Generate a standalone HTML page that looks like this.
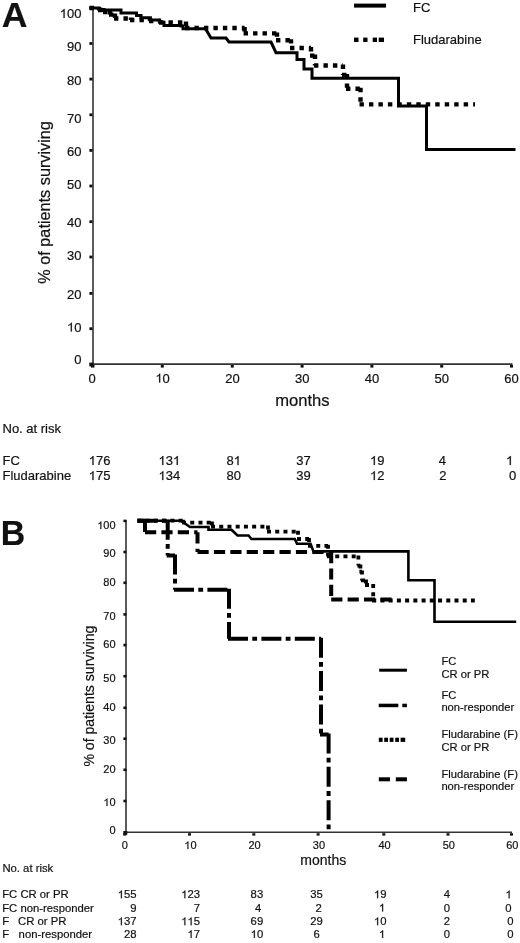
<!DOCTYPE html>
<html>
<head>
<meta charset="utf-8">
<style>
html,body{margin:0;padding:0;background:#fff;}
body{width:520px;height:943px;overflow:hidden;position:relative;}
svg{position:absolute;left:0;top:0;filter:grayscale(100%);}
text{font-family:"Liberation Sans",sans-serif;fill:#111;stroke:#111;stroke-width:0.2px;}
</style>
</head>
<body>
<svg width="520" height="943" viewBox="0 0 520 943">
<!-- ================= PANEL A ================= -->
<text x="1.8" y="26.5" font-size="35.6" font-weight="bold" fill="#000">A</text>

<!-- axes -->
<g stroke="#333" stroke-width="1.6" fill="none">
  <path d="M93,7.5 V364.1 H512.5"/>
</g>
<!-- y ticks -->
<g fill="#111">
  <rect x="89.4" y="6.8" width="3" height="2.8"/>
  <rect x="89.4" y="42.1" width="3" height="2.8"/>
  <rect x="89.4" y="77.7" width="3" height="2.8"/>
  <rect x="89.4" y="113.4" width="3" height="2.8"/>
  <rect x="89.4" y="149" width="3" height="2.8"/>
  <rect x="89.4" y="184.6" width="3" height="2.8"/>
  <rect x="89.4" y="220.3" width="3" height="2.8"/>
  <rect x="89.4" y="255.6" width="3" height="2.8"/>
  <rect x="89.4" y="292" width="3" height="2.8"/>
  <rect x="89.4" y="327.3" width="3" height="2.8"/>
  <rect x="89.3" y="362.6" width="4.2" height="3.8"/>
  <!-- x ticks -->
  <rect x="91" y="365" width="3.4" height="2.6"/>
  <rect x="160.8" y="365" width="3" height="2.6"/>
  <rect x="230.8" y="365" width="3" height="2.6"/>
  <rect x="300.6" y="365" width="3" height="2.6"/>
  <rect x="370.4" y="365" width="3" height="2.6"/>
  <rect x="440.2" y="365" width="3" height="2.6"/>
  <rect x="510" y="365" width="3" height="2.6"/>
</g>
<!-- y labels -->
<g font-size="13" text-anchor="end">
  <text x="81.5" y="17.9">&#8199;00</text><path fill="#111" stroke="#111" stroke-width="31.5" transform="translate(59.81,17.90) scale(0.00635,-0.00635)" d="M583 0V1102C520 1045 430 980 223 894V1061C420 1153 590 1278 647 1409H763V0Z"/>
  <text x="81.5" y="50.9">90</text>
  <text x="81.5" y="84.8">80</text>
  <text x="81.5" y="123">70</text>
  <text x="81.5" y="155.9">60</text>
  <text x="81.5" y="188.8">50</text>
  <text x="81.5" y="226.8">40</text>
  <text x="81.5" y="260.1">30</text>
  <text x="81.5" y="298.9">20</text>
  <text x="81.5" y="331.6">&#8199;0</text><path fill="#111" stroke="#111" stroke-width="31.5" transform="translate(67.04,331.60) scale(0.00635,-0.00635)" d="M583 0V1102C520 1045 430 980 223 894V1061C420 1153 590 1278 647 1409H763V0Z"/>
  <text x="81.5" y="363.8">0</text>
</g>
<!-- x labels -->
<g font-size="13" text-anchor="middle">
  <text x="92" y="382.6">0</text>
  <text x="162.6" y="382.6">&#8199;0</text><path fill="#111" stroke="#111" stroke-width="31.5" transform="translate(155.37,382.60) scale(0.00635,-0.00635)" d="M583 0V1102C520 1045 430 980 223 894V1061C420 1153 590 1278 647 1409H763V0Z"/>
  <text x="232.5" y="382.6">20</text>
  <text x="302.3" y="382.6">30</text>
  <text x="372" y="382.6">40</text>
  <text x="441.8" y="382.6">50</text>
  <text x="511.6" y="382.6">60</text>
</g>
<text x="275.2" y="406" font-size="16.6">months</text>
<text transform="translate(50.4,202.4) rotate(-90)" font-size="16.25" text-anchor="middle">% of patients surviving</text>

<!-- curves A -->
<path fill="none" stroke="#000" stroke-width="3" stroke-linejoin="miter" d="M89.5,8.0 L99.0,8.0 L99.0,9.5 L104.0,9.5 L104.0,10.0 L121.0,10.0 L121.0,13.0 L136.5,13.0 L136.5,15.4 L141.0,15.4 L141.0,17.7 L150.4,17.7 L150.4,20.0 L159.6,20.0 L159.6,22.3 L164.0,22.3 L164.0,25.4 L181.0,25.4 L181.0,26.0 L183.0,26.0 L183.0,28.8 L205.5,28.8 L211.0,38.0 L226.0,38.0 L229.0,42.0 L271.0,42.0 L276.0,52.7 L297.0,52.7 L297.0,59.4 L304.0,59.4 L304.0,69.0 L312.0,69.0 L312.0,78.3 L398.5,78.3 L398.5,106.0 L426.5,106.0 L426.5,149.5 L515.5,149.5"/>
<path fill="none" stroke="#000" stroke-width="4.4" stroke-dasharray="4.4 5.07" d="M89.5,8.0 L99.0,8.0 M99.0,7.0 L99.0,10.0 M98.0,10.0 L104.0,10.0 M104.0,9.0 L104.0,12.0 M103.0,12.0 L110.0,12.0 M110.0,11.0 L110.0,14.6 M109.0,14.6 L115.0,14.6 M115.0,13.6 L115.0,18.5 M114.0,18.5 L131.0,18.5 M131.0,17.5 L131.0,20.0 M130.0,20.0 L150.0,20.0 M150.0,19.0 L150.0,21.0 M149.0,21.0 L160.0,21.0 M160.0,20.0 L160.0,22.5 M159.0,22.5 L186.0,22.5 M186.0,21.5 L186.0,28.0 M185.0,28.0 L244.6,28.0 M244.6,27.0 L244.6,33.4 M243.6,33.4 L277.0,33.4 M277.0,32.4 L277.0,40.2 M276.0,40.2 L291.0,40.2 M291.0,39.2 L291.0,48.0 M290.0,48.0 L311.0,48.0 M311.0,47.0 L311.0,55.6 M310.0,55.6 L315.0,55.6 M315.0,54.6 L315.0,65.5 M314.0,65.5 L343.0,65.5 M343.0,64.5 L343.0,75.0 M342.0,75.0 L347.0,75.0 M347.0,74.0 L347.0,88.8 M346.0,88.8 L360.5,88.8 M360.5,87.8 L360.5,104.4 M359.5,104.4 L475.0,104.4"/>

<!-- legend A -->
<rect x="354" y="3.6" width="32" height="4" fill="#000"/>
<g fill="#000">
  <rect x="354" y="37.6" width="4.5" height="4.4"/>
  <rect x="363.2" y="37.6" width="4.3" height="4.4"/>
  <rect x="372.7" y="37.6" width="4.3" height="4.4"/>
  <rect x="378.7" y="37.6" width="5.3" height="4.4"/>
</g>
<text x="413" y="11.6" font-size="13">FC</text>
<text x="413" y="44.3" font-size="13">Fludarabine</text>

<!-- table A -->
<g font-size="13">
  <text x="2.5" y="432.8">No. at risk</text>
  <text x="2.5" y="465">FC</text>
  <text x="2.5" y="480.1">Fludarabine</text>
  <text x="88.7" y="465.0">&#8199;76</text><path fill="#111" stroke="#111" stroke-width="31.5" transform="translate(88.70,465.00) scale(0.00635,-0.00635)" d="M583 0V1102C520 1045 430 980 223 894V1061C420 1153 590 1278 647 1409H763V0Z"/>
  <text x="88.7" y="480.1">&#8199;75</text><path fill="#111" stroke="#111" stroke-width="31.5" transform="translate(88.70,480.10) scale(0.00635,-0.00635)" d="M583 0V1102C520 1045 430 980 223 894V1061C420 1153 590 1278 647 1409H763V0Z"/>
  <text x="158.5" y="465.0">&#8199;3&#8199;</text><path fill="#111" stroke="#111" stroke-width="31.5" transform="translate(158.50,465.00) scale(0.00635,-0.00635)" d="M583 0V1102C520 1045 430 980 223 894V1061C420 1153 590 1278 647 1409H763V0Z"/><path fill="#111" stroke="#111" stroke-width="31.5" transform="translate(172.96,465.00) scale(0.00635,-0.00635)" d="M583 0V1102C520 1045 430 980 223 894V1061C420 1153 590 1278 647 1409H763V0Z"/>
  <text x="158.5" y="480.1">&#8199;34</text><path fill="#111" stroke="#111" stroke-width="31.5" transform="translate(158.50,480.10) scale(0.00635,-0.00635)" d="M583 0V1102C520 1045 430 980 223 894V1061C420 1153 590 1278 647 1409H763V0Z"/>
  <text x="226.5" y="465.0">8&#8199;</text><path fill="#111" stroke="#111" stroke-width="31.5" transform="translate(233.73,465.00) scale(0.00635,-0.00635)" d="M583 0V1102C520 1045 430 980 223 894V1061C420 1153 590 1278 647 1409H763V0Z"/>
  <text x="226.5" y="480.1">80</text>
  <text x="296.3" y="465">37</text>
  <text x="296.3" y="480.1">39</text>
  <text x="370.0" y="465.0">&#8199;9</text><path fill="#111" stroke="#111" stroke-width="31.5" transform="translate(370.00,465.00) scale(0.00635,-0.00635)" d="M583 0V1102C520 1045 430 980 223 894V1061C420 1153 590 1278 647 1409H763V0Z"/>
  <text x="370.0" y="480.1">&#8199;2</text><path fill="#111" stroke="#111" stroke-width="31.5" transform="translate(370.00,480.10) scale(0.00635,-0.00635)" d="M583 0V1102C520 1045 430 980 223 894V1061C420 1153 590 1278 647 1409H763V0Z"/>
  <text x="438.8" y="465">4</text>
  <text x="439.3" y="480.1">2</text>
  <text x="506.0" y="465.0">&#8199;</text><path fill="#111" stroke="#111" stroke-width="31.5" transform="translate(506.00,465.00) scale(0.00635,-0.00635)" d="M583 0V1102C520 1045 430 980 223 894V1061C420 1153 590 1278 647 1409H763V0Z"/>
  <text x="509" y="480.1">0</text>
</g>

<!-- ================= PANEL B ================= -->
<text transform="translate(0.8,545.2) scale(0.945,1)" font-size="35.8" font-weight="bold" fill="#000">B</text>

<!-- axes B -->
<g stroke="#333" stroke-width="1.6" fill="none">
  <path d="M126,520 V832.3 H512"/>
</g>
<g fill="#111">
  <rect x="123.4" y="519.6" width="3" height="2.6"/>
  <rect x="123.4" y="550.7" width="3" height="2.6"/>
  <rect x="123.4" y="581.5" width="3" height="2.6"/>
  <rect x="123.4" y="613.1" width="3" height="2.6"/>
  <rect x="123.4" y="643.8" width="3" height="2.6"/>
  <rect x="123.4" y="674.9" width="3" height="2.6"/>
  <rect x="123.4" y="706.5" width="3" height="2.6"/>
  <rect x="123.4" y="737.4" width="3" height="2.6"/>
  <rect x="123.4" y="768.5" width="3" height="2.6"/>
  <rect x="123.4" y="799.7" width="3" height="2.6"/>
  <rect x="123.3" y="831" width="4" height="3.8"/>
  <rect x="123.3" y="833.2" width="3" height="2.4"/>
  <rect x="188" y="833.2" width="3" height="2.4"/>
  <rect x="252.3" y="833.2" width="3" height="2.4"/>
  <rect x="316.6" y="833.2" width="3" height="2.4"/>
  <rect x="382.3" y="833.2" width="3" height="2.4"/>
  <rect x="446.5" y="833.2" width="3" height="2.4"/>
  <rect x="510" y="833.2" width="3" height="2.4"/>
</g>
<g font-size="11" text-anchor="end">
  <text x="115.6" y="529.1">&#8199;00</text><path fill="#111" stroke="#111" stroke-width="37.2" transform="translate(97.25,529.10) scale(0.00537,-0.00537)" d="M583 0V1102C520 1045 430 980 223 894V1061C420 1153 590 1278 647 1409H763V0Z"/>
  <text x="115.6" y="557.3">90</text>
  <text x="115.6" y="585.5">80</text>
  <text x="115.6" y="619.8">70</text>
  <text x="115.6" y="648">60</text>
  <text x="115.6" y="681.7">50</text>
  <text x="115.6" y="710.7">40</text>
  <text x="115.6" y="744">30</text>
  <text x="115.6" y="772.8">20</text>
  <text x="115.6" y="806.0">&#8199;0</text><path fill="#111" stroke="#111" stroke-width="37.2" transform="translate(103.36,806.00) scale(0.00537,-0.00537)" d="M583 0V1102C520 1045 430 980 223 894V1061C420 1153 590 1278 647 1409H763V0Z"/>
  <text x="115.6" y="834.3">0</text>
</g>
<g font-size="11" text-anchor="middle">
  <text x="124.8" y="849">0</text>
  <text x="190.4" y="849.0">&#8199;0</text><path fill="#111" stroke="#111" stroke-width="37.2" transform="translate(184.28,849.00) scale(0.00537,-0.00537)" d="M583 0V1102C520 1045 430 980 223 894V1061C420 1153 590 1278 647 1409H763V0Z"/>
  <text x="254.6" y="849">20</text>
  <text x="318.9" y="849">30</text>
  <text x="384.6" y="849">40</text>
  <text x="448.8" y="849">50</text>
  <text x="512.3" y="849">60</text>
</g>
<text x="300.3" y="864.5" font-size="14">months</text>
<text transform="translate(94,696.1) rotate(-90)" font-size="14.1" text-anchor="middle">% of patients surviving</text>

<!-- curves B -->
<path fill="none" stroke="#000" stroke-width="2.6" stroke-linejoin="miter" d="M137.5,520.7 L181.0,520.7 L190.0,527.0 L208.5,527.0 L208.5,529.7 L231.5,529.7 L237.5,535.5 L248.5,535.5 L251.5,539.0 L294.8,539.0 L297.0,543.8 L310.5,543.8 L313.5,551.4 L408.4,551.4 L408.4,580.2 L434.5,580.2 L434.5,621.7 L516.2,621.7"/>
<path fill="none" stroke="#000" stroke-width="4" stroke-dasharray="20 4.3 4.8 4.3" d="M137.5,520.7 L167.7,520.7 M167.7,519.7 L167.7,555.4 M166.7,555.4 L175.0,555.4 M175.0,554.4 L175.0,589.7 M174.0,589.7 L229.0,589.7 M229.0,588.7 L229.0,638.7 M228.0,638.7 L321.0,638.7 M321.0,637.7 L321.0,734.4 M320.0,734.4 L328.6,734.4 M328.6,733.4 L328.6,830.0"/>
<path fill="none" stroke="#000" stroke-width="4" stroke-dasharray="11.2 5.2" d="M137.5,520.7 L145.0,520.7 M145.0,520.7 L145.0,532.3 M145.0,532.3 L197.5,532.3 M197.5,532.3 L197.5,552.0 M197.5,552.0 L331.2,552.0 M331.2,552.0 L331.2,599.6 M331.2,599.6 L392.3,599.6"/>
<path fill="none" stroke="#000" stroke-width="3.8" stroke-dasharray="4 4.23" d="M137.5,520.7 L183.0,520.7 M183.0,519.7 L183.0,522.6 M182.0,522.6 L212.0,522.6 M212.0,521.6 L212.0,526.6 M211.0,526.6 L268.0,526.6 M268.0,525.6 L268.0,531.7 M267.0,531.7 L298.0,531.7 M298.0,530.7 L298.0,539.0 M297.0,539.0 L309.0,539.0 M309.0,538.0 L309.0,545.8 M308.0,545.8 L328.0,545.8 M328.0,544.8 L328.0,556.4 M327.0,556.4 L358.4,556.4 M358.4,555.4 L358.4,565.6 M357.4,565.6 L360.4,565.6 M360.4,564.6 L360.4,571.6 M359.4,571.6 L362.0,571.6 M362.0,570.6 L362.0,580.4 M361.0,580.4 L366.0,580.4 M366.0,579.4 L366.0,585.0 M365.0,585.0 L373.2,585.0 M373.2,584.0 L373.2,600.5 M372.2,600.5 L474.8,600.5"/>

<!-- legend B -->
<rect x="379.2" y="668.7" width="27.7" height="3" fill="#000"/>
<rect x="378.7" y="703.7" width="19.6" height="3.5" fill="#000"/>
<rect x="402.3" y="703.7" width="4.6" height="3.5" fill="#000"/>
<g fill="#000">
  <rect x="378.8" y="737.7" width="3.8" height="4.2"/>
  <rect x="384.2" y="737.7" width="3.8" height="4.2"/>
  <rect x="389.7" y="737.7" width="3.8" height="4.2"/>
  <rect x="395.2" y="737.7" width="3.8" height="4.2"/>
  <rect x="400.6" y="737.7" width="4.6" height="4.2"/>
</g>
<rect x="378.8" y="777.3" width="11.2" height="4" fill="#000"/>
<rect x="395.8" y="777.3" width="11.1" height="4" fill="#000"/>
<g font-size="11.2">
  <text x="441.4" y="665">FC</text>
  <text x="441.4" y="678.3">CR or PR</text>
  <text x="441.4" y="699">FC</text>
  <text x="441.4" y="711.1">non-responder</text>
  <text x="441.4" y="737.9">Fludarabine (F)</text>
  <text x="441.4" y="751.2">CR or PR</text>
  <text x="441.4" y="777.7">Fludarabine (F)</text>
  <text x="441.4" y="790.1">non-responder</text>
</g>

<!-- table B -->
<g font-size="11.3">
  <text x="2.4" y="871.7">No. at risk</text>
  <text x="2.2" y="898.3">FC CR or PR</text>
  <text x="2.2" y="911.5">FC non-responder</text>
  <text x="2.2" y="925.2">F</text>
  <text x="18" y="925.2">CR or PR</text>
  <text x="2.2" y="938">F</text>
  <text x="18.6" y="938">non-responder</text>
</g>
<g font-size="11.3" text-anchor="end">
  <text x="136.5" y="898.3">&#8199;55</text><path fill="#111" stroke="#111" stroke-width="36.2" transform="translate(117.65,898.30) scale(0.00552,-0.00552)" d="M583 0V1102C520 1045 430 980 223 894V1061C420 1153 590 1278 647 1409H763V0Z"/>
  <text x="136.5" y="911.5">9</text>
  <text x="136.5" y="925.2">&#8199;37</text><path fill="#111" stroke="#111" stroke-width="36.2" transform="translate(117.65,925.20) scale(0.00552,-0.00552)" d="M583 0V1102C520 1045 430 980 223 894V1061C420 1153 590 1278 647 1409H763V0Z"/>
  <text x="136.5" y="938">28</text>
  <text x="200.0" y="898.3">&#8199;23</text><path fill="#111" stroke="#111" stroke-width="36.2" transform="translate(181.15,898.30) scale(0.00552,-0.00552)" d="M583 0V1102C520 1045 430 980 223 894V1061C420 1153 590 1278 647 1409H763V0Z"/>
  <text x="200" y="911.5">7</text>
  <text x="200.0" y="925.2">&#8199;&#8199;5</text><path fill="#111" stroke="#111" stroke-width="36.2" transform="translate(181.15,925.20) scale(0.00552,-0.00552)" d="M583 0V1102C520 1045 430 980 223 894V1061C420 1153 590 1278 647 1409H763V0Z"/><path fill="#111" stroke="#111" stroke-width="36.2" transform="translate(187.43,925.20) scale(0.00552,-0.00552)" d="M583 0V1102C520 1045 430 980 223 894V1061C420 1153 590 1278 647 1409H763V0Z"/>
  <text x="200.0" y="938.0">&#8199;7</text><path fill="#111" stroke="#111" stroke-width="36.2" transform="translate(187.43,938.00) scale(0.00552,-0.00552)" d="M583 0V1102C520 1045 430 980 223 894V1061C420 1153 590 1278 647 1409H763V0Z"/>
  <text x="263.2" y="898.3">83</text>
  <text x="261.3" y="911.5">4</text>
  <text x="263.2" y="925.2">69</text>
  <text x="263.2" y="938.0">&#8199;0</text><path fill="#111" stroke="#111" stroke-width="36.2" transform="translate(250.63,938.00) scale(0.00552,-0.00552)" d="M583 0V1102C520 1045 430 980 223 894V1061C420 1153 590 1278 647 1409H763V0Z"/>
  <text x="322.8" y="898.3">35</text>
  <text x="321.7" y="911.5">2</text>
  <text x="322.8" y="925.2">29</text>
  <text x="319.7" y="938">6</text>
  <text x="386.5" y="898.3">&#8199;9</text><path fill="#111" stroke="#111" stroke-width="36.2" transform="translate(373.93,898.30) scale(0.00552,-0.00552)" d="M583 0V1102C520 1045 430 980 223 894V1061C420 1153 590 1278 647 1409H763V0Z"/>
  <text x="385.2" y="911.5">&#8199;</text><path fill="#111" stroke="#111" stroke-width="36.2" transform="translate(378.92,911.50) scale(0.00552,-0.00552)" d="M583 0V1102C520 1045 430 980 223 894V1061C420 1153 590 1278 647 1409H763V0Z"/>
  <text x="386.5" y="925.2">&#8199;0</text><path fill="#111" stroke="#111" stroke-width="36.2" transform="translate(373.93,925.20) scale(0.00552,-0.00552)" d="M583 0V1102C520 1045 430 980 223 894V1061C420 1153 590 1278 647 1409H763V0Z"/>
  <text x="385.2" y="938.0">&#8199;</text><path fill="#111" stroke="#111" stroke-width="36.2" transform="translate(378.92,938.00) scale(0.00552,-0.00552)" d="M583 0V1102C520 1045 430 980 223 894V1061C420 1153 590 1278 647 1409H763V0Z"/>
  <text x="450" y="898.3">4</text>
  <text x="450" y="911.5">0</text>
  <text x="450" y="925.2">2</text>
  <text x="450" y="938">0</text>
  <text x="511.7" y="898.3">&#8199;</text><path fill="#111" stroke="#111" stroke-width="36.2" transform="translate(505.42,898.30) scale(0.00552,-0.00552)" d="M583 0V1102C520 1045 430 980 223 894V1061C420 1153 590 1278 647 1409H763V0Z"/>
  <text x="511.5" y="911.5">0</text>
  <text x="513.5" y="925.2">0</text>
  <text x="513.5" y="938">0</text>
</g>
</svg>
</body>
</html>
